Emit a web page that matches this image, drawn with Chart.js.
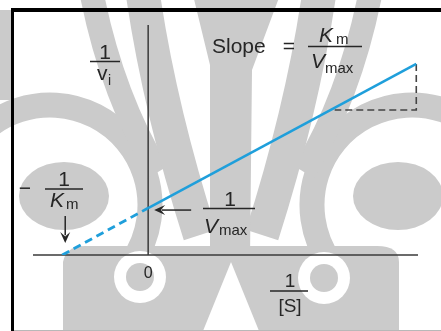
<!DOCTYPE html>
<html>
<head>
<meta charset="utf-8">
<script src="https://cdn.jsdelivr.net/npm/chart.js@4.4.1/dist/chart.umd.min.js"></script>
<style>
  html, body { margin: 0; padding: 0; background: #fff; }
  #wrap { width: 441px; height: 331px; }
</style>
</head>
<body>
<div id="wrap"><canvas id="c" width="441" height="331"></canvas></div>
<script>
// Lineweaver–Burk plot: 1/v versus 1/[S]
const lineX = [0, 3.12];          // measured range of 1/[S]
const lineY = [1.0, 4.07];        // 1/v over that range
const extrapX = [-1.0, 0];        // back-extrapolation to the x-intercept (-1/Km)
const extrapY = [0, 1.0];
const slopeX = [3.12, 3.12, 2.17];  // rise/run triangle
const slopeY = [4.07, 3.09, 3.09];
const xTickLabels = ['0'];
const xTickValues = [0];

const BLUE = '#1f9fdb';
const INK = '#262626';
const GRAY = '#cbcbcb';
const FONT = '"Liberation Sans", Arial, Helvetica, sans-serif';

const pts = (xs, ys) => xs.map((x, i) => ({ x, y: ys[i] }));

// faint emblem behind the drawing
function drawEmblem(ctx) {
  ctx.save();
  ctx.fillStyle = '#fff';
  ctx.fillRect(0, 0, 441, 331);
  ctx.fillStyle = GRAY;
  ctx.strokeStyle = GRAY;
  ctx.lineCap = 'butt';

  const side = () => {
    ctx.lineWidth = 25;
    ctx.beginPath();
    ctx.arc(50, 205, 100, Math.PI * 0.9, Math.PI * 2 + 0.6);
    ctx.stroke();
    ctx.beginPath();
    ctx.ellipse(64, 196, 45, 34, 0, 0, Math.PI * 2);
    ctx.fill();
    ctx.lineWidth = 24;
    ctx.beginPath();
    ctx.moveTo(92, -5);
    ctx.quadraticCurveTo(112, 95, 158, 172);
    ctx.stroke();
    ctx.lineWidth = 34;
    ctx.beginPath();
    ctx.moveTo(143, -5);
    ctx.quadraticCurveTo(160, 110, 200, 235);
    ctx.stroke();
  };
  side();
  ctx.save();
  ctx.translate(462, 0);
  ctx.scale(-1, 1);
  side();
  ctx.restore();

  // central stem
  ctx.beginPath();
  ctx.moveTo(193, -5); ctx.lineTo(280, -5); ctx.lineTo(252, 70);
  ctx.lineTo(250, 258); ctx.lineTo(210, 258); ctx.lineTo(210, 65);
  ctx.closePath(); ctx.fill();

  // lower face
  ctx.beginPath();
  ctx.moveTo(63, 331); ctx.lineTo(63, 262);
  ctx.quadraticCurveTo(66, 246, 85, 246);
  ctx.lineTo(377, 246);
  ctx.quadraticCurveTo(399, 246, 399, 262);
  ctx.lineTo(399, 331);
  ctx.closePath(); ctx.fill();

  ctx.fillRect(0, 10, 11, 90);

  // eyes and nose
  ctx.fillStyle = '#fff';
  [[140, 277], [324, 278]].forEach(([x, y]) => {
    ctx.beginPath(); ctx.arc(x, y, 26, 0, Math.PI * 2); ctx.fill();
  });
  ctx.beginPath();
  ctx.moveTo(231, 262); ctx.lineTo(203, 331); ctx.lineTo(259, 331);
  ctx.closePath(); ctx.fill();
  ctx.fillStyle = GRAY;
  [[140, 277], [324, 278]].forEach(([x, y]) => {
    ctx.beginPath(); ctx.arc(x, y, 14, 0, Math.PI * 2); ctx.fill();
  });
  ctx.restore();
}

function text(ctx, s, x, y, size, opts = {}) {
  ctx.font = (opts.italic ? 'italic ' : '') + size + 'px ' + FONT;
  ctx.textAlign = opts.align || 'left';
  ctx.textBaseline = 'alphabetic';
  ctx.fillStyle = INK;
  ctx.fillText(s, x, y);
}
function hline(ctx, x1, x2, y, w = 1.5) {
  ctx.beginPath(); ctx.moveTo(x1, y); ctx.lineTo(x2, y);
  ctx.lineWidth = w; ctx.strokeStyle = INK; ctx.stroke();
}
function arrow(ctx, x1, y1, x2, y2) {
  const a = Math.atan2(y2 - y1, x2 - x1), L = 11, W = 5;
  ctx.strokeStyle = INK; ctx.fillStyle = INK; ctx.lineWidth = 1.5;
  ctx.beginPath(); ctx.moveTo(x1, y1);
  ctx.lineTo(x2 - Math.cos(a) * L * 0.7, y2 - Math.sin(a) * L * 0.7); ctx.stroke();
  ctx.beginPath();
  ctx.moveTo(x2, y2);
  ctx.lineTo(x2 - Math.cos(a) * L - Math.sin(a) * W, y2 - Math.sin(a) * L + Math.cos(a) * W);
  ctx.lineTo(x2 - Math.cos(a) * L * 0.6, y2 - Math.sin(a) * L * 0.6);
  ctx.lineTo(x2 - Math.cos(a) * L + Math.sin(a) * W, y2 - Math.sin(a) * L - Math.cos(a) * W);
  ctx.closePath(); ctx.fill();
}

const backdrop = {
  id: 'backdrop',
  beforeDraw(chart) { drawEmblem(chart.ctx); },
  beforeDatasetsDraw(chart) {
    const { ctx, scales: { x, y }, chartArea: a } = chart;
    const x0 = x.getPixelForValue(0), y0 = y.getPixelForValue(0);
    ctx.save();
    ctx.strokeStyle = '#3a3a3a';
    ctx.lineWidth = 1.5;
    ctx.beginPath(); ctx.moveTo(a.left, y0); ctx.lineTo(a.right, y0); ctx.stroke();
    ctx.beginPath(); ctx.moveTo(x0, a.top); ctx.lineTo(x0, y0); ctx.stroke();
    ctx.restore();
  },
  afterDraw(chart) {
    const { ctx, scales: { x, y } } = chart;
    ctx.save();
    // frame
    ctx.fillStyle = '#000';
    ctx.fillRect(11, 8, 430, 4);
    ctx.fillRect(11, 8, 3, 323);
    ctx.fillStyle = '#b8b8b8';
    ctx.fillRect(14, 330, 427, 1);

    // y-axis title 1/vi
    text(ctx, '1', 105, 59, 21, { align: 'center' });
    hline(ctx, 90, 120, 61.5);
    text(ctx, 'v', 97, 80, 21);
    text(ctx, 'i', 108, 85, 14);

    // slope annotation
    text(ctx, 'Slope', 212, 53, 21);
    text(ctx, '=', 289, 53, 21, { align: 'center' });
    text(ctx, 'K', 319, 42, 21, { italic: true });
    text(ctx, 'm', 336, 44, 15);
    hline(ctx, 308, 362, 46.5);
    text(ctx, 'V', 311, 68, 21, { italic: true });
    text(ctx, 'max', 325, 73, 15);

    // -1/Km label with arrow to the x-intercept
    const xi = x.getPixelForValue(extrapX[0]), y0 = y.getPixelForValue(0);
    text(ctx, '\u2212', 25, 195, 21, { align: 'center' });
    text(ctx, '1', 64, 186, 21, { align: 'center' });
    hline(ctx, 45, 83, 189);
    text(ctx, 'K', 50, 207, 21, { italic: true });
    text(ctx, 'm', 66, 209, 15);
    arrow(ctx, xi + 3, 216, xi + 3, y0 - 12);

    // 1/Vmax label with arrow to the y-intercept
    const xa = x.getPixelForValue(0), ya = y.getPixelForValue(lineY[0]);
    arrow(ctx, xa + 43, ya + 2, xa + 6, ya + 2);
    text(ctx, '1', 230, 206, 21, { align: 'center' });
    hline(ctx, 203, 255, 208.5);
    text(ctx, 'V', 204, 233, 21, { italic: true });
    text(ctx, 'max', 219, 235, 15);

    // x tick label and x-axis title 1/[S]
    xTickValues.forEach((v, i) => {
      text(ctx, xTickLabels[i], x.getPixelForValue(v), 278, 16, { align: 'center' });
    });
    text(ctx, '1', 290, 287, 19, { align: 'center' });
    hline(ctx, 270, 308, 291);
    text(ctx, '[S]', 290, 312, 19, { align: 'center' });
    ctx.restore();
  }
};

new Chart(document.getElementById('c'), {
  type: 'scatter',
  data: {
    datasets: [
      { data: pts(lineX, lineY), showLine: true, borderColor: BLUE, borderWidth: 2.5,
        pointRadius: 0, tension: 0, fill: false },
      { data: pts(extrapX, extrapY), showLine: true, borderColor: BLUE, borderWidth: 2.8,
        borderDash: [8, 5], pointRadius: 0, tension: 0, fill: false },
      { data: pts(slopeX, slopeY), showLine: true, borderColor: '#444', borderWidth: 1.6,
        borderDash: [7, 4], pointRadius: 0, tension: 0, fill: false }
    ]
  },
  options: {
    responsive: false,
    animation: false,
    layout: { padding: { left: 33, right: 23, top: 25, bottom: 76 } },
    plugins: { legend: { display: false }, tooltip: { enabled: false } },
    scales: {
      x: { type: 'linear', min: -1.34, max: 3.14, display: false },
      y: { type: 'linear', min: 0, max: 4.9, display: false }
    }
  },
  plugins: [backdrop]
});
</script>
</body>
</html>
